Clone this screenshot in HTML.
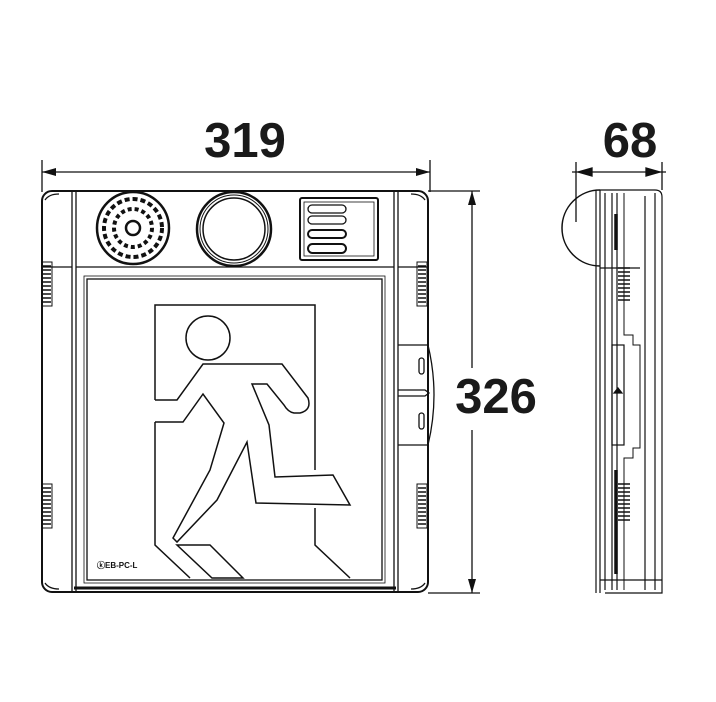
<!DOCTYPE html>
<html><head><style>body{margin:0;background:#fff}svg{display:block}</style></head><body>
<svg width="716" height="702" viewBox="0 0 716 702" xmlns="http://www.w3.org/2000/svg" font-family="Liberation Sans, sans-serif">
<defs>
<marker id="a" markerWidth="14" markerHeight="8" refX="14" refY="4" orient="auto" markerUnits="userSpaceOnUse"><path d="M0,0 L14,4 L0,8z" fill="#111"/></marker>
<marker id="b" markerWidth="14" markerHeight="8" refX="0" refY="4" orient="auto" markerUnits="userSpaceOnUse"><path d="M14,0 L0,4 L14,8z" fill="#111"/></marker>
</defs>
<g fill="#1a1a1a" font-weight="bold" font-size="49">
<text x="245" y="157" text-anchor="middle">319</text>
<text x="496" y="413" text-anchor="middle">326</text>
<text x="630" y="157" text-anchor="middle">68</text>
</g>
<g stroke="#111" stroke-width="1.3" fill="none">
<!-- dims -->
<line x1="42" y1="160" x2="42" y2="192"/><line x1="430" y1="160" x2="430" y2="192"/>
<line x1="42" y1="172" x2="430" y2="172" marker-start="url(#b)" marker-end="url(#a)"/>
<line x1="428" y1="191" x2="480" y2="191"/><line x1="428" y1="593" x2="480" y2="593"/>
<line x1="472" y1="191" x2="472" y2="368" marker-start="url(#b)"/>
<line x1="472" y1="430" x2="472" y2="593" marker-end="url(#a)"/>
<line x1="576" y1="162" x2="576" y2="222"/><line x1="662" y1="162" x2="662" y2="190"/>
<line x1="572" y1="172" x2="666" y2="172"/>
<path d="M578,172 l14,-4 v8z M660,172 l-14,-4 v8z" fill="#111"/>
<!-- front body -->
<rect x="42" y="191" width="386" height="401" rx="10" stroke-width="2"/>
<line x1="72" y1="192" x2="72" y2="591"/><line x1="76" y1="192" x2="76" y2="591"/>
<line x1="394" y1="192" x2="394" y2="591"/><line x1="398" y1="192" x2="398" y2="591"/>
<path d="M45,200 q4,-6 14,-6 M425,200 q-4,-6 -14,-6 M45,583 q4,6 14,6 M425,583 q-4,6 -14,6"/>
<line x1="76" y1="267" x2="394" y2="267"/>
<line x1="42" y1="267" x2="72" y2="267"/><line x1="398" y1="267" x2="428" y2="267"/>
<rect x="87" y="279" width="295" height="301"/>
<rect x="84" y="276" width="301" height="307" stroke-width="0.8"/>
<line x1="74" y1="588" x2="396" y2="588" stroke-width="3"/>
<!-- speaker -->
<circle cx="133" cy="228" r="36" stroke-width="2.5"/>
<circle cx="133" cy="228" r="29" stroke-dasharray="5 3" stroke-width="4"/>
<circle cx="133" cy="228" r="19" stroke-dasharray="4 3" stroke-width="4"/>
<circle cx="133" cy="228" r="7" stroke-width="2.5"/>
<!-- sensor -->
<circle cx="234" cy="229" r="37" stroke-width="2.5"/>
<circle cx="234" cy="229" r="31" stroke-width="1.5"/>
<circle cx="234" cy="229" r="34" stroke-width="1"/>
<!-- label panel -->
<rect x="300" y="198" width="78" height="62" rx="2" stroke-width="2"/>
<rect x="304" y="202" width="70" height="54" stroke-width="0.8"/>
<rect x="308" y="205" width="38" height="8" rx="4"/>
<rect x="308" y="216" width="38" height="8" rx="4"/>
<rect x="308" y="230" width="38" height="8" rx="4" stroke-width="2"/>
<rect x="308" y="244" width="38" height="9" rx="4.5" stroke-width="2"/>
<!-- vents -->
<g stroke-width="1">
<rect x="42" y="262" width="10" height="44"/><rect x="42" y="484" width="10" height="44"/>
<rect x="417" y="262" width="10" height="44"/><rect x="417" y="484" width="10" height="44"/>
</g>
<path d="M43,266 h8 M43,270 h8 M43,274 h8 M43,278 h8 M43,282 h8 M43,286 h8 M43,290 h8 M43,294 h8 M43,298 h8 M43,302 h8
M43,488 h8 M43,492 h8 M43,496 h8 M43,500 h8 M43,504 h8 M43,508 h8 M43,512 h8 M43,516 h8 M43,520 h8 M43,524 h8
M418,266 h8 M418,270 h8 M418,274 h8 M418,278 h8 M418,282 h8 M418,286 h8 M418,290 h8 M418,294 h8 M418,298 h8 M418,302 h8
M418,488 h8 M418,492 h8 M418,496 h8 M418,500 h8 M418,504 h8 M418,508 h8 M418,512 h8 M418,516 h8 M418,520 h8 M418,524 h8" stroke-width="1.5"/>
<!-- bracket -->
<path d="M398,345 H428 Q440,395 428,445 H398"/>
<path d="M398,390 H425 l4,3 -4,3 H398"/>
<rect x="419" y="358" width="5" height="16" rx="2.5"/><rect x="419" y="413" width="5" height="16" rx="2.5"/>
<!-- door -->
<path d="M155,400 V305 H315 V470 M315,508 V545 L350,578 M155,422 V545 L190,578" stroke-width="1.5"/>
<circle cx="208" cy="338" r="22" stroke-width="1.5"/>
<path d="M155,400 H177 L203,364 H282 L308,398 Q312,410 300,413 H294 Q288,412 284,405 L267,384 H252 L269,425 L275,477 L333,475 L350,505 L256,503 L247,442 L217,500 L177,542 L173,538 L210,470 L224,423 L203,394 L183,422 H155" stroke-width="1.5"/>
<path d="M177,545 H210 L243,578 H212 Z" stroke-width="1.5"/>
</g>
<text x="97" y="568" font-size="8" font-weight="bold" fill="#111">ⓚEB-PC-L</text>
<!-- side view -->
<g stroke="#111" stroke-width="1.2" fill="none">
<path d="M600,190 H655 Q662,190 662,197 V593 H605"/>
<path d="M600,190 V593"/>
<path d="M600,190 A38,38 0 0 0 600,266" stroke-width="1.5"/>
<line x1="596" y1="190" x2="596" y2="593"/>
<line x1="605" y1="193" x2="605" y2="590"/>
<line x1="612" y1="193" x2="612" y2="590"/>
<line x1="617" y1="193" x2="617" y2="590"/>
<path d="M624,193 V335 H633 V345 H640 V448 H633 V458 H624 V590" stroke-width="1"/>
<line x1="645" y1="196" x2="645" y2="590"/>
<line x1="655" y1="193" x2="655" y2="590"/>
<line x1="600" y1="268" x2="640" y2="268"/>
<line x1="600" y1="580" x2="662" y2="580"/>
<rect x="612" y="345" width="12" height="100"/>
<path d="M616,250 V214 M616,574 V470" stroke-width="3.5"/>
<path d="M618,268 h12 M618,272 h12 M618,276 h12 M618,280 h12 M618,284 h12 M618,288 h12 M618,292 h12 M618,296 h12 M618,300 h12
M618,484 h12 M618,488 h12 M618,492 h12 M618,496 h12 M618,500 h12 M618,504 h12 M618,508 h12 M618,512 h12 M618,516 h12 M618,520 h12" stroke-width="1.5"/>
<path d="M614,393 h8 l-4,-5z" fill="#111"/>
</g>
</svg>
</body></html>
